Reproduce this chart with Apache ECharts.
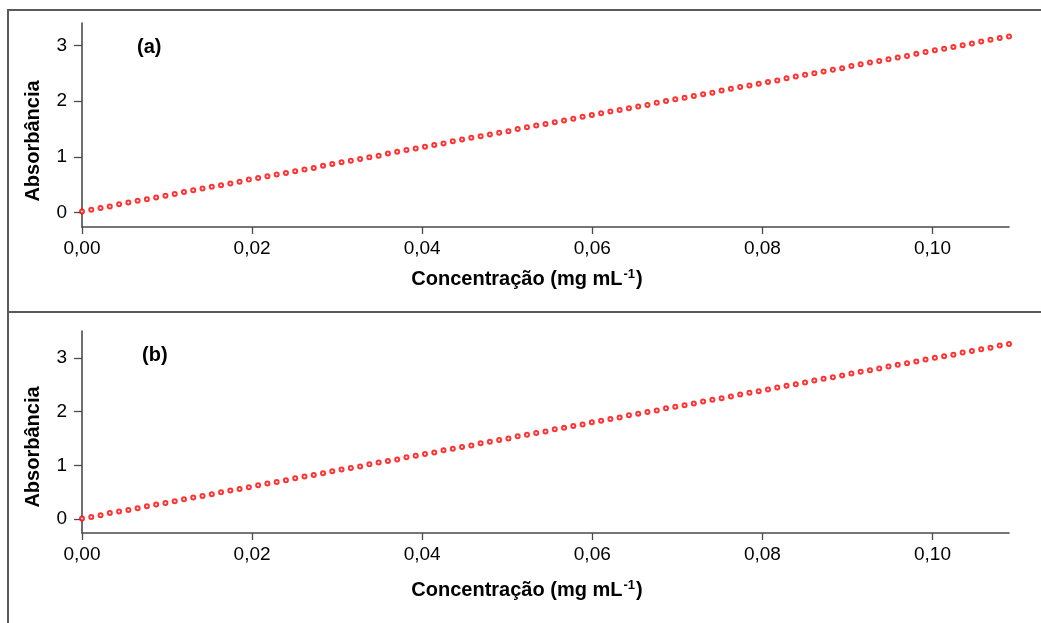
<!DOCTYPE html>
<html>
<head>
<meta charset="utf-8">
<script src="https://cdn.jsdelivr.net/npm/echarts@6/dist/echarts.min.js"></script>
<style>
  html, body { margin: 0; padding: 0; background: #fff; }
  #chart { width: 1041px; height: 623px; }
</style>
</head>
<body>
<div id="chart"></div>
<script>
// Concentration (mg mL-1) of each standard
const concentracao = [
  0, 0.00109, 0.00218, 0.00327, 0.00436, 0.00545, 0.00654, 0.00763, 0.00872, 0.00981,
  0.0109, 0.01199, 0.01308, 0.01417, 0.01526, 0.01635, 0.01744, 0.01853, 0.01962, 0.02071,
  0.0218, 0.02289, 0.02398, 0.02507, 0.02616, 0.02725, 0.02834, 0.02943, 0.03052, 0.03161,
  0.0327, 0.03379, 0.03488, 0.03597, 0.03706, 0.03815, 0.03924, 0.04033, 0.04142, 0.04251,
  0.0436, 0.04469, 0.04578, 0.04687, 0.04796, 0.04905, 0.05014, 0.05123, 0.05232, 0.05341,
  0.0545, 0.05559, 0.05668, 0.05777, 0.05886, 0.05995, 0.06104, 0.06213, 0.06322, 0.06431,
  0.0654, 0.06649, 0.06758, 0.06867, 0.06976, 0.07085, 0.07194, 0.07303, 0.07412, 0.07521,
  0.0763, 0.07739, 0.07848, 0.07957, 0.08066, 0.08175, 0.08284, 0.08393, 0.08502, 0.08611,
  0.0872, 0.08829, 0.08938, 0.09047, 0.09156, 0.09265, 0.09374, 0.09483, 0.09592, 0.09701,
  0.0981, 0.09919, 0.10028, 0.10137, 0.10246, 0.10355, 0.10464, 0.10573, 0.10682, 0.10791,
  0.109
];

// Absorbance, panel (a)
const absorbanciaA = [
  0.02, 0.05, 0.08, 0.11, 0.15, 0.18, 0.21, 0.24, 0.27, 0.30,
  0.33, 0.37, 0.40, 0.43, 0.46, 0.49, 0.52, 0.55, 0.59, 0.62,
  0.65, 0.68, 0.71, 0.74, 0.77, 0.80, 0.84, 0.87, 0.90, 0.93,
  0.96, 0.99, 1.02, 1.06, 1.09, 1.12, 1.15, 1.18, 1.21, 1.24,
  1.28, 1.31, 1.34, 1.37, 1.40, 1.43, 1.46, 1.50, 1.53, 1.56,
  1.59, 1.62, 1.65, 1.68, 1.72, 1.75, 1.78, 1.81, 1.84, 1.87,
  1.90, 1.93, 1.97, 2.00, 2.03, 2.06, 2.09, 2.12, 2.15, 2.19,
  2.22, 2.25, 2.28, 2.31, 2.34, 2.37, 2.41, 2.44, 2.47, 2.50,
  2.53, 2.56, 2.59, 2.63, 2.66, 2.69, 2.72, 2.75, 2.78, 2.81,
  2.85, 2.88, 2.91, 2.94, 2.97, 3.00, 3.03, 3.07, 3.10, 3.13,
  3.16
];

// Absorbance, panel (b)
const absorbanciaB = [
  0.01, 0.04, 0.07, 0.11, 0.14, 0.17, 0.20, 0.24, 0.27, 0.30,
  0.33, 0.37, 0.40, 0.43, 0.46, 0.50, 0.53, 0.56, 0.59, 0.63,
  0.66, 0.69, 0.72, 0.76, 0.79, 0.82, 0.85, 0.89, 0.92, 0.95,
  0.98, 1.02, 1.05, 1.08, 1.11, 1.15, 1.18, 1.21, 1.24, 1.28,
  1.31, 1.34, 1.37, 1.41, 1.44, 1.47, 1.50, 1.54, 1.57, 1.60,
  1.63, 1.67, 1.70, 1.73, 1.76, 1.80, 1.83, 1.86, 1.89, 1.93,
  1.96, 1.99, 2.02, 2.06, 2.09, 2.12, 2.15, 2.19, 2.22, 2.25,
  2.28, 2.32, 2.35, 2.38, 2.41, 2.45, 2.48, 2.51, 2.54, 2.58,
  2.61, 2.64, 2.67, 2.71, 2.74, 2.77, 2.80, 2.84, 2.87, 2.90,
  2.93, 2.97, 3.00, 3.03, 3.06, 3.10, 3.13, 3.16, 3.19, 3.23,
  3.26
];

const xTicks = [0, 0.02, 0.04, 0.06, 0.08, 0.10];
const yTicks = [0, 1, 2, 3];
const panelLabels = ['(a)', '(b)'];
const xTitle = 'Concentração (mg mL';
const xTitleSup = '-1';
const yTitle = 'Absorbância';

const FONT = '"Liberation Sans", Arial, Helvetica, sans-serif';
const AXIS_COLOR = '#4a4a4a';
const FRAME_COLOR = '#5a5a5a';

function pairs(xs, ys) {
  return xs.map((x, i) => [x, ys[i]]);
}

function xAxis(gridIndex) {
  return {
    type: 'value', gridIndex, min: 0, max: 0.109,
    splitLine: { show: false },
    axisLine: { show: true, onZero: false, lineStyle: { color: AXIS_COLOR, width: 1.6 } },
    axisTick: { show: true, length: 7, customValues: xTicks, lineStyle: { color: AXIS_COLOR, width: 1.3 } },
    axisLabel: {
      customValues: xTicks, margin: 12, color: '#000', fontSize: 19, fontFamily: FONT,
      formatter: v => v.toFixed(2).replace('.', ',')
    }
  };
}

function yAxis(gridIndex, min, max) {
  return {
    type: 'value', gridIndex, min, max,
    splitLine: { show: false },
    axisLine: { show: true, onZero: false, lineStyle: { color: AXIS_COLOR, width: 1.6 } },
    axisTick: { show: true, length: 8, customValues: yTicks, lineStyle: { color: AXIS_COLOR, width: 1.3 } },
    axisLabel: {
      customValues: yTicks, margin: 15, color: '#000', fontSize: 19, fontFamily: FONT,
      formatter: v => String(v)
    }
  };
}

function scatter(idx, ys) {
  return {
    type: 'scatter', xAxisIndex: idx, yAxisIndex: idx,
    data: pairs(concentracao, ys),
    symbol: 'emptyCircle', symbolSize: 4,
    itemStyle: { color: '#ff0000', borderColor: '#ff0000', borderWidth: 1.2 },
    clip: false, silent: true, z: 1
  };
}

function titleX(cx, cy) {
  return {
    type: 'text', x: cx, y: cy,
    style: {
      text: '{t|' + xTitle + '}{s|' + xTitleSup + '}{t|)}',
      align: 'center', verticalAlign: 'middle',
      rich: {
        t: { fontSize: 20, fontWeight: 'bold', fontFamily: FONT, fill: '#000' },
        s: { fontSize: 13, fontWeight: 'bold', fontFamily: FONT, fill: '#000', padding: [0, 1, 9, 1] }
      }
    }
  };
}

function titleY(cx, cy) {
  return {
    type: 'text', x: cx, y: cy, rotation: Math.PI / 2,
    style: {
      text: yTitle, align: 'center', verticalAlign: 'middle',
      fontSize: 20, fontWeight: 'bold', fontFamily: FONT, fill: '#000'
    }
  };
}

function panelTag(text, x, y) {
  return {
    type: 'text', x, y,
    style: { text, fontSize: 20, fontWeight: 'bold', fontFamily: FONT, fill: '#000', verticalAlign: 'middle' }
  };
}

function frameLine(x1, y1, x2, y2) {
  return {
    type: 'line', shape: { x1, y1, x2, y2 },
    style: { stroke: FRAME_COLOR, lineWidth: 2 }
  };
}

const chart = echarts.init(document.getElementById('chart'), null, { renderer: 'canvas' });
chart.setOption({
  backgroundColor: '#fff',
  animation: false,
  grid: [
    { left: 82, right: 32, top: 23, height: 204 },
    { left: 82, right: 32, top: 331, height: 202 }
  ],
  xAxis: [xAxis(0), xAxis(1)],
  yAxis: [yAxis(0, -0.26, 3.4), yAxis(1, -0.26, 3.5)],
  series: [scatter(0, absorbanciaA), scatter(1, absorbanciaB)],
  graphic: [
    frameLine(8, 10, 1041, 10),
    frameLine(8, 9, 8, 623),
    frameLine(8, 312, 1041, 312),
    panelTag(panelLabels[0], 137, 47),
    panelTag(panelLabels[1], 142, 355),
    titleX(527, 279),
    titleX(527, 590),
    titleY(33, 141),
    titleY(33, 447)
  ]
});
</script>
</body>
</html>
